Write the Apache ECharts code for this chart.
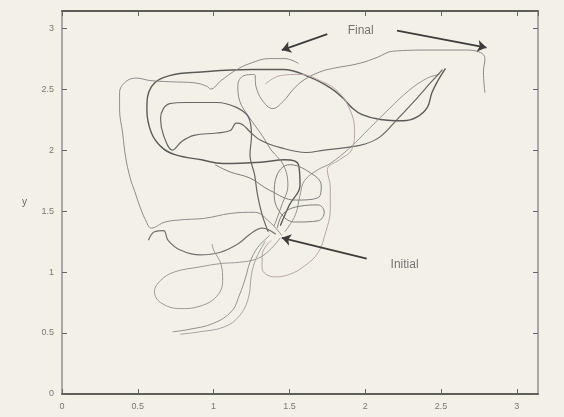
<!DOCTYPE html>
<html>
<head>
<meta charset="utf-8">
<title>trajectories</title>
<script src="https://cdn.jsdelivr.net/npm/echarts@6/dist/echarts.min.js"></script>
<style>
html, body { margin: 0; padding: 0; background: #f3f1e7; }
#chart { width: 564px; height: 417px; }
</style>
</head>
<body>
<div id="chart"></div>
<script>
// axis range (matlab auto box goes a bit past 3)
var axisMin = 0;
var axisMax = 3.14;
var tickStep = 0.5;

// trajectories, [x, y]
var pathA = [[1.44,1.38],[1.50,1.55],[1.57,1.71],[1.56,1.88],[1.47,1.92],[1.31,1.90],[1.06,1.89],[0.92,1.92],[0.75,1.96],[0.66,2.02],[0.59,2.14],[0.56,2.33],[0.59,2.52],[0.71,2.61],[0.92,2.64],[1.25,2.66],[1.46,2.66],[1.63,2.60],[1.77,2.51],[1.85,2.43],[1.91,2.35],[1.98,2.29],[2.10,2.25],[2.25,2.24],[2.34,2.27],[2.41,2.35],[2.44,2.47],[2.48,2.57],[2.53,2.67]];
var pathB = [[1.40,1.38],[1.45,1.55],[1.49,1.71],[1.46,1.88],[1.38,2.00],[1.32,2.12],[1.24,2.26],[1.17,2.41],[1.16,2.53],[1.20,2.61],[1.27,2.62],[1.28,2.52],[1.32,2.41],[1.39,2.34],[1.46,2.40],[1.52,2.49],[1.59,2.57],[1.70,2.64],[1.79,2.67],[1.96,2.71],[2.08,2.76],[2.18,2.81],[2.43,2.82],[2.66,2.82],[2.76,2.80],[2.79,2.75],[2.78,2.64],[2.79,2.47]];
var pathC = [[1.45,1.30],[1.37,1.41],[1.27,1.49],[1.11,1.48],[0.94,1.44],[0.81,1.43],[0.68,1.41],[0.59,1.36],[0.55,1.43],[0.51,1.55],[0.48,1.66],[0.45,1.77],[0.42,1.94],[0.40,2.14],[0.38,2.33],[0.38,2.47],[0.42,2.56],[0.49,2.59],[0.58,2.57],[0.71,2.56],[0.88,2.55],[0.96,2.52],[0.98,2.50],[1.05,2.57],[1.14,2.65],[1.24,2.71],[1.37,2.75],[1.47,2.75],[1.56,2.71]];
var pathD = [[1.47,1.33],[1.54,1.47],[1.57,1.63],[1.60,1.75],[1.69,1.84],[1.77,1.89],[1.90,2.02],[2.03,2.18],[2.16,2.34],[2.29,2.49],[2.41,2.59],[2.49,2.62]];
var pathE = [[1.36,1.33],[1.32,1.47],[1.29,1.63],[1.27,1.80],[1.24,1.96],[1.25,2.12],[1.23,2.27],[1.15,2.35],[1.02,2.39],[0.82,2.39],[0.71,2.38],[0.65,2.26],[0.67,2.12],[0.73,2.00],[0.79,2.07],[0.87,2.12],[1.02,2.14],[1.11,2.16],[1.15,2.22],[1.19,2.21],[1.24,2.15],[1.31,2.08],[1.44,2.02],[1.61,1.98],[1.73,2.00],[1.87,2.02],[2.00,2.05],[2.10,2.11],[2.21,2.25],[2.33,2.41],[2.43,2.55],[2.51,2.66]];
var pathF = [[1.38,1.26],[1.32,1.14],[1.32,1.03],[1.40,0.96],[1.50,0.98],[1.60,1.05],[1.69,1.16],[1.74,1.33],[1.77,1.51],[1.77,1.69],[1.75,1.84],[1.83,1.92],[1.91,2.00],[1.93,2.16],[1.90,2.33],[1.82,2.48],[1.70,2.57],[1.57,2.62],[1.44,2.61],[1.34,2.54]];
var pathG = [[1.41,1.31],[1.32,1.36],[1.24,1.31],[1.16,1.23],[1.04,1.16],[0.91,1.14],[0.78,1.18],[0.70,1.26],[0.67,1.34],[0.61,1.33],[0.57,1.26]];
var pathH = [[1.44,1.28],[1.37,1.18],[1.29,1.11],[1.17,1.08],[1.05,1.07],[0.90,1.04],[0.74,1.00],[0.65,0.93],[0.61,0.84],[0.65,0.75],[0.78,0.70],[0.91,0.72],[1.02,0.80],[1.06,0.93],[1.05,1.06],[1.00,1.18],[0.99,1.23]];
var pathI = [[1.37,1.30],[1.29,1.20],[1.24,1.08],[1.21,0.95],[1.17,0.81],[1.12,0.68],[1.00,0.58],[0.84,0.53],[0.73,0.51]];
var pathJ = [[1.34,1.25],[1.28,1.11],[1.25,0.98],[1.23,0.79],[1.17,0.64],[1.07,0.55],[0.91,0.51],[0.78,0.49]];
var pathK = [[1.42,1.36],[1.46,1.48],[1.57,1.54],[1.69,1.55],[1.73,1.49],[1.69,1.42],[1.54,1.41],[1.45,1.47],[1.40,1.63],[1.42,1.80],[1.50,1.88],[1.63,1.82],[1.71,1.71],[1.69,1.61],[1.54,1.59],[1.37,1.67],[1.24,1.77],[1.11,1.82],[1.01,1.88]];

// annotations
var finalText = [1.97, 2.98];
var initialText = [2.26, 1.06];
var finalArrows = [[[1.75, 2.95], [1.45, 2.82]], [[2.21, 2.98], [2.80, 2.84]]];
var initialArrow = [[2.01, 1.11], [1.45, 1.28]];

var paths = [pathA, pathB, pathC, pathD, pathE, pathF, pathG, pathH, pathI, pathJ, pathK];
var pathColors = ['#5a5a5a', '#8a8a8a', '#8c8c8c', '#959595', '#666666', '#bba5a9', '#707070', '#999999', '#909090', '#a4a4a4', '#7c7c7c'];
var pathWidths = [1.4, 1, 1, 1, 1.2, 1, 1.2, 1, 1, 1, 1];

var chart = echarts.init(document.getElementById('chart'));

var series = [];
for (var i = 0; i < paths.length; i++) {
	series.push({
		type : 'line',
		data : paths[i],
		showSymbol : false,
		smooth : 0.4,
		lineStyle : {
			color : pathColors[i],
			width : pathWidths[i]
		},
		z : 2
	});
}

series.push({
	type : 'lines',
	coordinateSystem : 'cartesian2d',
	symbol : ['none', 'arrow'],
	symbolSize : 9,
	lineStyle : {
		color : '#3c3c3c',
		width : 1.8,
		opacity : 1
	},
	data : finalArrows.concat([initialArrow]).map(function(c) {
		return { coords : c };
	}),
	z : 3
});

series.push({
	type : 'scatter',
	symbolSize : 1,
	itemStyle : { color : 'rgba(0,0,0,0)' },
	label : {
		show : true,
		position : 'inside',
		formatter : '{b}',
		color : '#555',
		fontSize : 12,
		fontFamily : 'Liberation Sans'
	},
	data : [{ name : 'Final', value : finalText }, { name : 'Initial', value : initialText }],
	z : 4
});

function boxAxis(extra) {
	var a = {
		type : 'value',
		min : axisMin,
		max : axisMax,
		interval : tickStep,
		splitLine : { show : false },
		axisTick : { show : true, inside : true, length : 5, lineStyle : { color : '#666' } },
		axisLabel : {
			showMaxLabel : false,
			color : '#777',
			fontSize : 9,
			fontFamily : 'Liberation Sans'
		}
	};
	for (var k in extra) a[k] = extra[k];
	return a;
}

chart.setOption({
	animation : false,
	backgroundColor : '#f3f1e7',
	grid : { left : 62, right : 26, top : 11, bottom : 23, outerBoundsMode : 'none' },
	xAxis : [
		boxAxis({
			position : 'bottom',
			name : 'x',
			nameLocation : 'middle',
			nameGap : 14,
			nameTextStyle : { color : '#666', fontSize : 10 },
			axisLine : { onZero : false, lineStyle : { color : '#2e2e2e', width : 1.5 } }
		}),
		boxAxis({
			position : 'top',
			axisLabel : { show : false },
			axisLine : { onZero : false, lineStyle : { color : '#2e2e2e', width : 1.5 } }
		})
	],
	yAxis : [
		boxAxis({
			position : 'left',
			name : 'y',
			nameLocation : 'middle',
			nameRotate : 0,
			nameGap : 35,
			nameTextStyle : { color : '#666', fontSize : 10 },
			axisLine : { onZero : false, lineStyle : { color : '#a8a8a8', width : 2 } }
		}),
		boxAxis({
			position : 'right',
			axisLabel : { show : false },
			axisLine : { onZero : false, lineStyle : { color : '#a8a8a8', width : 2 } }
		})
	],
	series : series
});
</script>
</body>
</html>
